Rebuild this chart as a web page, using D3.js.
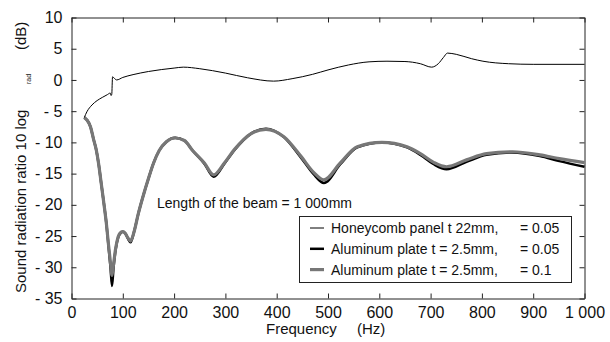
<!DOCTYPE html>
<html>
<head>
<meta charset="utf-8">
<script src="https://cdn.jsdelivr.net/npm/d3@7"></script>
<style>
  body { margin: 0; background: #fff; }
  svg { display: block; font-family: "Liberation Sans", Arial, sans-serif; }
</style>
</head>
<body>
<div id="chart"></div>
<script>
// honeycomb panel, t 22mm, eta 0.05
const hcFreq = [25, 30, 40, 50, 60, 70, 75.5, 77, 78.5, 80, 83, 88, 100, 120, 150, 200, 218, 250, 300, 343, 394, 430, 470, 500, 540, 580, 615, 650, 680, 702, 715, 725, 733, 750, 780, 802, 852, 900, 1000];
const hcVal = [-6.0, -5.1, -4.0, -3.3, -2.8, -2.35, -2.1, -2.5, -2.3, 0.5, 0.3, 0.0, 0.4, 0.85, 1.35, 1.9, 2.05, 1.8, 1.1, 0.35, -0.19, 0.2, 0.9, 1.6, 2.4, 2.9, 3.0, 2.95, 2.6, 2.05, 2.6, 3.6, 4.3, 4.1, 3.4, 3.0, 2.6, 2.5, 2.5];

// aluminum plate t = 2.5mm (same frequencies for both damping values)
const alFreq = [25, 30, 37, 43, 48.5, 53, 58, 63, 68, 72, 76, 79, 82, 86, 91, 96, 100, 105, 110, 115, 122, 130, 140, 150, 160, 171, 185, 202, 220, 236, 259, 277, 298, 317, 350, 379, 414, 447, 472, 492, 524, 557, 605, 654, 680, 706, 731, 770, 809, 860, 913, 951, 1000];
const alVal005 = [-6.0, -6.4, -7.5, -9.5, -11.3, -13.5, -16.6, -19.7, -23.0, -26.5, -30.0, -33.0, -30.0, -27.2, -25.2, -24.5, -24.3, -24.6, -25.4, -26.0, -24.3, -21.5, -18.5, -15.8, -13.3, -11.3, -9.9, -9.25, -9.7, -11.3, -13.4, -15.5, -13.4, -11.3, -8.6, -7.8, -9.15, -12.4, -15.1, -16.5, -13.5, -10.8, -10.0, -10.8, -12.0, -13.5, -14.3, -13.1, -12.0, -11.6, -12.2, -13.0, -13.9];
const alVal01 = [-6.0, -6.4, -7.5, -9.5, -11.3, -13.5, -16.6, -19.7, -23.0, -26.3, -29.3, -31.3, -29.5, -27.0, -25.1, -24.4, -24.3, -24.6, -25.3, -25.8, -24.3, -21.5, -18.5, -15.8, -13.3, -11.3, -9.9, -9.3, -9.7, -11.3, -13.3, -15.2, -13.3, -11.2, -8.6, -7.9, -9.1, -12.2, -14.8, -16.0, -13.3, -10.7, -10.0, -10.7, -11.8, -13.2, -13.9, -12.8, -11.8, -11.5, -12.0, -12.6, -13.25];

const xTicks = [0, 100, 200, 300, 400, 500, 600, 700, 800, 900, 1000];
const yTicks = [10, 5, 0, -5, -10, -15, -20, -25, -30, -35];

const legendLabels = ["Honeycomb panel t 22mm,", "Aluminum plate t = 2.5mm,", "Aluminum plate t = 2.5mm,"];
const legendEta = ["= 0.05", "= 0.05", "= 0.1"];

const width = 610;
const height = 342;

const x = d3.scaleLinear().domain([0, 1000]).range([71.5, 584.5]);
const y = d3.scaleLinear().domain([-35, 10]).range([298.5, 17.5]);

const svg = d3.select("#chart").append("svg")
    .attr("width", width)
    .attr("height", height);

function fmtX(d) {
    return d === 1000 ? "1 000" : String(d);
}

function fmtY(d) {
    return d < 0 ? "- " + Math.abs(d) : String(d);
}

// axes, ticks point inward on all four sides
const axisB = svg.append("g")
    .attr("transform", `translate(0, ${y(-35)})`)
    .call(d3.axisBottom(x).tickValues(xTicks).tickSizeInner(-5).tickSizeOuter(0).tickPadding(8).tickFormat(fmtX));
const axisL = svg.append("g")
    .attr("transform", `translate(${x(0)}, 0)`)
    .call(d3.axisLeft(y).tickValues(yTicks).tickSizeInner(-5).tickSizeOuter(0).tickPadding(9).tickFormat(fmtY));
const axisT = svg.append("g")
    .attr("transform", `translate(0, ${y(10)})`)
    .call(d3.axisTop(x).tickValues(xTicks).tickSizeInner(-5).tickSizeOuter(0).tickFormat(""));
const axisR = svg.append("g")
    .attr("transform", `translate(${x(1000)}, 0)`)
    .call(d3.axisRight(y).tickValues(yTicks).tickSizeInner(-5).tickSizeOuter(0).tickFormat(""));

[axisB, axisL, axisT, axisR].forEach(g => {
    g.select(".domain").attr("stroke", "#222");
    g.selectAll(".tick line").attr("stroke", "#222");
    g.selectAll(".tick text")
        .attr("fill", "#111")
        .style("font-size", "16px")
        .style("font-family", "Liberation Sans, Arial, sans-serif");
});

// curves
const line = d3.line()
    .x(d => x(d[0]))
    .y(d => y(d[1]))
    .curve(d3.curveMonotoneX);

svg.append("path")
    .datum(d3.zip(alFreq, alVal005))
    .attr("d", line)
    .attr("fill", "none")
    .attr("stroke", "#000")
    .attr("stroke-width", 2.5);

svg.append("path")
    .datum(d3.zip(alFreq, alVal01))
    .attr("d", line)
    .attr("fill", "none")
    .attr("stroke", "#777")
    .attr("stroke-width", 3.2);

svg.append("path")
    .datum(d3.zip(hcFreq, hcVal))
    .attr("d", line)
    .attr("fill", "none")
    .attr("stroke", "#000")
    .attr("stroke-width", 1);

// axis titles
const yTitle = svg.append("g").attr("fill", "#111");
yTitle.append("text")
    .attr("transform", "translate(26, 293) rotate(-90)")
    .style("font-size", "15px")
    .text("Sound radiation ratio 10 log");
yTitle.append("text")
    .attr("transform", "translate(31, 84) rotate(-90)")
    .style("font-size", "7px")
    .text("rad");
yTitle.append("text")
    .attr("transform", "translate(26, 50) rotate(-90)")
    .style("font-size", "15px")
    .text("(dB)");

svg.append("text")
    .attr("x", 266)
    .attr("y", 334)
    .attr("fill", "#111")
    .style("font-size", "15px")
    .text("Frequency");
svg.append("text")
    .attr("x", 357)
    .attr("y", 334)
    .attr("fill", "#111")
    .style("font-size", "15px")
    .text("(Hz)");

svg.append("text")
    .attr("x", 157)
    .attr("y", 208)
    .attr("fill", "#111")
    .style("font-size", "14px")
    .text("Length of the beam = 1 000mm");

// legend
const legend = svg.append("g");
legend.append("rect")
    .attr("x", 299.5)
    .attr("y", 216.5)
    .attr("width", 272)
    .attr("height", 66)
    .attr("fill", "#fff")
    .attr("stroke", "#222");

const legendStyles = [
    { color: "#000", w: 1 },
    { color: "#000", w: 2.5 },
    { color: "#777", w: 3.2 }
];

legendLabels.forEach((label, i) => {
    const cy = 228 + i * 20.8;
    legend.append("line")
        .attr("x1", 310).attr("x2", 324)
        .attr("y1", cy).attr("y2", cy)
        .attr("stroke", legendStyles[i].color)
        .attr("stroke-width", legendStyles[i].w);
    legend.append("text")
        .attr("x", 331)
        .attr("y", cy + 5)
        .attr("fill", "#111")
        .style("font-size", "14px")
        .text(label);
    legend.append("text")
        .attr("x", 520)
        .attr("y", cy + 5)
        .attr("fill", "#111")
        .style("font-size", "14px")
        .text(legendEta[i]);
});
</script>
</body>
</html>
